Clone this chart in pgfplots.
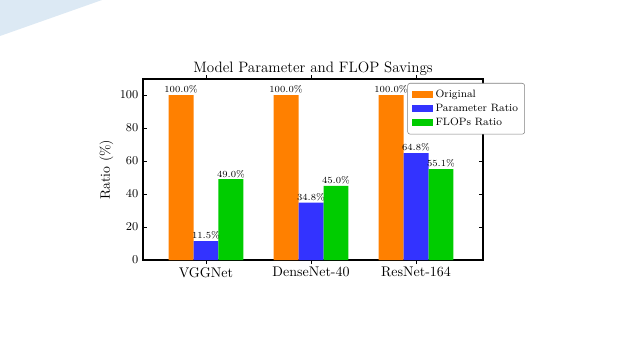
\documentclass[border=0pt]{standalone}
\usepackage{pgfplots}
\pgfplotsset{compat=1.18}
\definecolor{cOrange}{RGB}{255,128,0}
\definecolor{cBlue}{RGB}{51,51,255}
\definecolor{cGreen}{RGB}{0,204,0}
\definecolor{cTri}{RGB}{220,233,244}
\begin{document}
\begin{tikzpicture}
% slide background (640x360 px at 0.75pt per px, y measured from top)
\fill[white] (0pt,0pt) rectangle (480pt,-270pt);
\fill[cTri] (0pt,0pt) -- (76.5pt,0pt) -- (0pt,-27pt) -- cycle;
\begin{axis}[
  at={(107.25pt,-195pt)}, anchor=south west,
  scale only axis,
  width=255pt, height=135.75pt,
  xmin=-0.6, xmax=2.638,
  ymin=0, ymax=109.7,
  xtick={0,1,2},
  xticklabels={VGGNet,DenseNet-40,ResNet-164},
  ytick={0,20,40,60,80,100},
  tick align=inside,
  major tick length=3pt,
  xtick pos=both, ytick pos=both,
  axis line style={black, line width=0.9pt},
  every tick/.style={black, line width=0.6pt},
  tick label style={font=\fontsize{9.5}{11}\selectfont},
  xticklabel style={font=\fontsize{10.5}{12}\selectfont, yshift=1pt},
  ylabel={Ratio (\%)},
  ylabel style={font=\fontsize{10.3}{12}\selectfont, yshift=-2pt},
  title={Model Parameter and FLOP Savings},
  title style={font=\fontsize{11.3}{13}\selectfont, yshift=-7pt},
  ybar, bar width=0.238, bar shift=0pt,
  nodes near coords={\pgfmathprintnumber[fixed,zerofill,precision=1]{\pgfplotspointmeta}\%},
  every node near coord/.style={font=\fontsize{7}{8}\selectfont, inner sep=1pt, black},
  legend style={at={(1.1235,0.978)}, anchor=north east, draw=gray, rounded corners=2pt,
    font=\fontsize{8}{9.5}\selectfont, row sep=-0.5pt, inner sep=3pt, fill=white},
  legend cell align=left,
  legend image code/.code={\fill[#1, sharp corners] (0pt,-2.6pt) rectangle (16pt,2.6pt);},
]
\addplot[fill=cOrange, draw=none] coordinates {(-0.238,100) (0.762,100) (1.762,100)};
\addplot[fill=cBlue, draw=none] coordinates {(0,11.5) (1,34.8) (2,64.8)};
\addplot[fill=cGreen, draw=none] coordinates {(0.238,49.0) (1.238,45.0) (2.238,55.1)};
\legend{Original, Parameter Ratio, FLOPs Ratio}
\end{axis}
\end{tikzpicture}
\end{document}
